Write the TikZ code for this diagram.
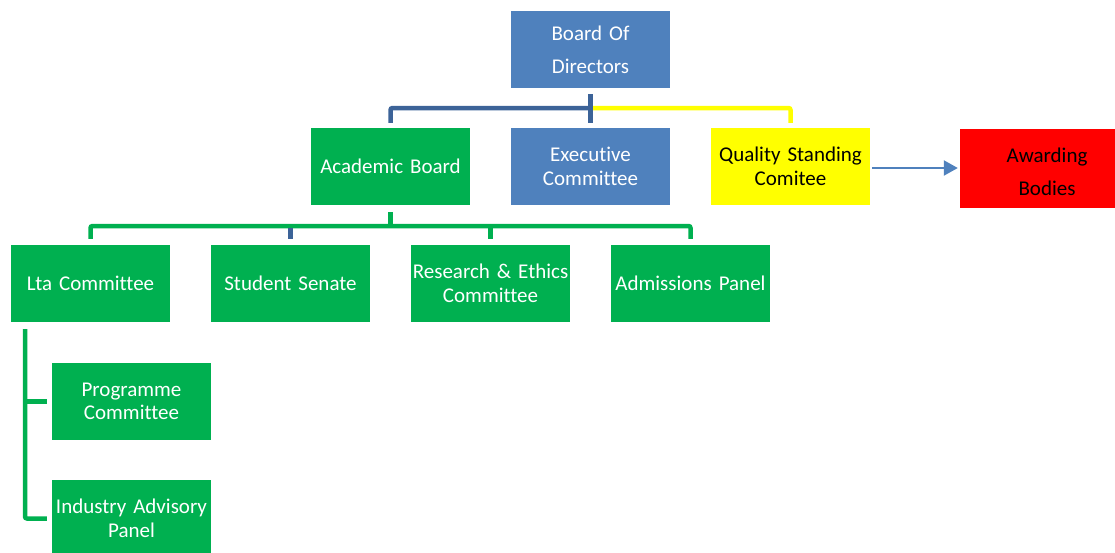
\documentclass[tikz,border=0pt]{standalone}
\usepackage{fontspec}
\setmainfont{Carlito}[Ligatures=NoCommon]
\usetikzlibrary{arrows.meta}
\definecolor{unitgreen}{HTML}{00B050}
\definecolor{unitblue}{HTML}{4F81BD}
\definecolor{linkblue}{HTML}{3C6398}
\definecolor{unityellow}{HTML}{FFFF00}
\definecolor{unitred}{HTML}{FF0000}

\begin{document}
\begin{tikzpicture}[x=1pt, y=-1pt,
    unit/.style={minimum width=159pt, minimum height=77pt, text width=159pt,
      inner sep=0pt, align=center, font=\fontsize{21}{23.5}\selectfont},
    green unit/.style={unit, fill=unitgreen, text=white},
    blue unit/.style={unit, fill=unitblue, text=white},
    wide lines/.style={font=\fontsize{21}{33}\selectfont},
    link/.style={line width=4.5pt, rounded corners=2pt},
    green link/.style={link, draw=unitgreen},
    blue link/.style={link, draw=linkblue},
    yellow link/.style={link, draw=unityellow}]
        \useasboundingbox (0,0) rectangle (1115,552);
        % top level
        \node[blue unit, wide lines] (board) at (590.5,49.5) {Board Of\\Directors};
        \node[green unit] (acad) at (390.5,166.5) {Academic Board};
        \node[blue unit] (exec) at (590.5,166.5) {Executive\\Committee};
        \node[unit, fill=unityellow] (qual) at (790.5,166.5) {Quality Standing\\Comitee};
        \node[unit, fill=unitred, minimum width=174pt, text width=174pt,
              minimum height=79pt, wide lines] (award) at (1047,168.5)
              {\rule{0pt}{22pt}Awarding\\Bodies};
        % committees
        \node[green unit] (lta) at (90.5,283.5) {Lta Committee};
        \node[green unit] (senate) at (290.5,283.5) {Student Senate};
        \node[green unit] (ethics) at (490.5,283.5) {Research \& Ethics\\Committee};
        \node[green unit] (adm) at (690.5,283.5) {Admissions Panel};
        \node[green unit] (prog) at (131.5,401.5) {Programme\\Committee};
        \node[green unit] (panel) at (131.5,518.5) {Industry Advisory\\Panel};
        % connectors
        \coordinate (top bar) at (590.5,108);
        \coordinate (mid bar) at (390.5,226);
        \coordinate (lta bar) at (25,329);
        \draw[yellow link] (top bar) -| ([yshift=5pt]qual.north);
        \draw[blue link] (top bar) -| ([yshift=5pt]acad.north);
        \draw[blue link, rounded corners=0pt] ([yshift=-6pt]board.south) -- ([yshift=5pt]exec.north);
        \draw[green link, rounded corners=0pt] ([yshift=-7pt]acad.south) -- (mid bar);
        \draw[green link] ([yshift=6pt]lta.north) |- (mid bar) -| ([yshift=6pt]adm.north);
        \draw[green link, rounded corners=0pt] (mid bar -| ethics.north) -- ([yshift=6pt]ethics.north);
        \draw[blue link, rounded corners=0pt] ([yshift=-2pt]mid bar -| senate.north) -- ([yshift=6pt]senate.north);
        \draw[green link] (lta bar) |- ([xshift=-5pt]panel.west);
        \draw[green link, rounded corners=0pt] (lta bar |- prog.west) -- ([xshift=-5pt]prog.west);
        \draw[-{Triangle[length=14pt,width=15pt]}, line width=2.2pt, unitblue]
            ([xshift=2pt,yshift=-1.5pt]qual.east) -- ([xshift=-2pt,yshift=-1.5pt]qual.east -| award.west);
      \end{tikzpicture}
\end{document}
